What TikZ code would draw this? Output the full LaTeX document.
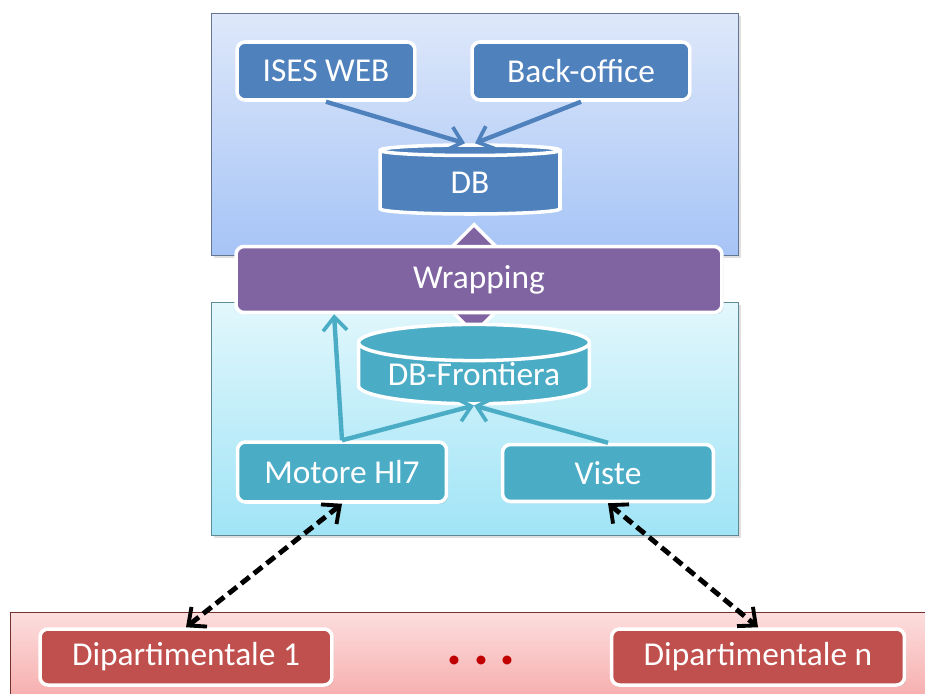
\documentclass[tikz,border=0pt]{standalone}
\usepackage{fontspec}
\setmainfont{Carlito}
\usetikzlibrary{shapes.geometric,arrows.meta,shadows}
\definecolor{topLight}{RGB}{222,232,250}
\definecolor{topDark}{RGB}{166,196,246}
\definecolor{midLight}{RGB}{226,247,252}
\definecolor{midDark}{RGB}{160,228,246}
\definecolor{lowLight}{RGB}{252,222,222}
\definecolor{lowDark}{RGB}{246,168,168}
\definecolor{officeBlue}{RGB}{79,129,189}
\definecolor{officeAqua}{RGB}{75,172,198}
\definecolor{officePurple}{RGB}{128,100,162}
\definecolor{officeRed}{RGB}{192,80,77}
\definecolor{dotRed}{RGB}{192,0,0}
\begin{document}
\begin{tikzpicture}[x=0.02cm, y=-0.02cm,
        panel/.style={rectangle, draw=#1!60!black, line width=0.5pt, drop shadow={opacity=0.25, shadow xshift=1.5pt, shadow yshift=-1.5pt}},
        element/.style={rectangle, rounded corners=0.16cm, draw=white, line width=2pt, text=white, inner sep=0pt, font=\fontsize{19}{22}\selectfont, drop shadow={opacity=0.25, shadow xshift=1pt, shadow yshift=-1pt}},
        store/.style={cylinder, shape border rotate=90, draw=white, line width=2pt, text=white, inner sep=0pt, font=\fontsize{19}{22}\selectfont},
        arrow/.style={-{Straight Barb[length=2.7mm, width=4.8mm, line width=2.1pt]}, line width=2.5pt},
        link/.style={{Straight Barb[length=2.8mm, width=5mm, line width=2.2pt]}-{Straight Barb[length=2.8mm, width=5mm, line width=2.2pt]}, line width=2.8pt, dash pattern=on 6pt off 3.2pt}
    ]
        \useasboundingbox (0,0) rectangle (925,693);

        % Panels
        \node[panel=topDark, top color=topLight, bottom color=topDark, minimum width=10.54cm, minimum height=4.84cm] (toppanel) at (474.5,134) {};
        \node[panel=midDark, top color=midLight, bottom color=midDark, minimum width=10.54cm, minimum height=4.66cm] (midpanel) at (474.5,418.5) {};
        \node[panel=officeRed, top color=lowLight, bottom color=lowDark, minimum width=18.5cm, minimum height=1.9cm] (lowpanel) at (473,660) {};

        % Upper layer
        \node[element, fill=officeBlue, minimum width=3.56cm, minimum height=1.16cm] (ises) at (326,71) {ISES WEB};
        \node[element, fill=officeBlue, minimum width=4.36cm, minimum height=1.16cm] (backoffice) at (581,71) {Back-office};
        \node[store, fill=officeBlue, minimum width=3.6cm, minimum height=1.38cm, aspect=0.27] (db) at (470,183) {DB};

        % Wrapping
        \node[diamond, fill=officePurple, draw=white, line width=2pt, minimum width=2.2cm, minimum height=2.2cm, inner sep=0pt] (link) at (474,279) {};
        \node[element, fill=officePurple, minimum width=9.72cm, minimum height=1.32cm] (wrap) at (479,279.5) {Wrapping};

        % Middle layer
        \node[store, fill=officeAqua, minimum width=4.62cm, minimum height=1.34cm, aspect=0.21] (dbf) at (474,374) {DB-Frontiera};
        \node[element, fill=officeAqua, minimum width=4.18cm, minimum height=1.2cm] (motore) at (342,472) {Motore Hl7};
        \node[element, fill=officeAqua, minimum width=4.22cm, minimum height=1.14cm] (viste) at (608,473) {Viste};

        % Lower layer
        \node[element, fill=officeRed, minimum width=5.84cm, minimum height=1.12cm] (dip1) at (186,657) {Dipartimentale 1};
        \node[element, fill=officeRed, minimum width=5.86cm, minimum height=1.12cm] (dipn) at (758,657) {Dipartimentale n};
        \node[text=dotRed, font=\fontsize{34}{36}\selectfont\bfseries] (dots) at (481,660) {.\hspace{0.22cm}.\hspace{0.22cm}.};

        % Arrows
        \draw[arrow, officeBlue] (ises.south) -- ([xshift=-0.1cm]db.north);
        \draw[arrow, officeBlue] (backoffice.south) -- ([xshift=0.1cm]db.north);
        \draw[arrow, officeAqua] (motore.north) -- ([xshift=-2.9cm]wrap.south);
        \draw[arrow, officeAqua] (motore.north) -- (dbf.south);
        \draw[arrow, officeAqua] (viste.north) -- (dbf.south);
        \draw[link] (motore.south) -- (dip1.north);
        \draw[link] (viste.south) -- (dipn.north);
    \end{tikzpicture}
\end{document}
